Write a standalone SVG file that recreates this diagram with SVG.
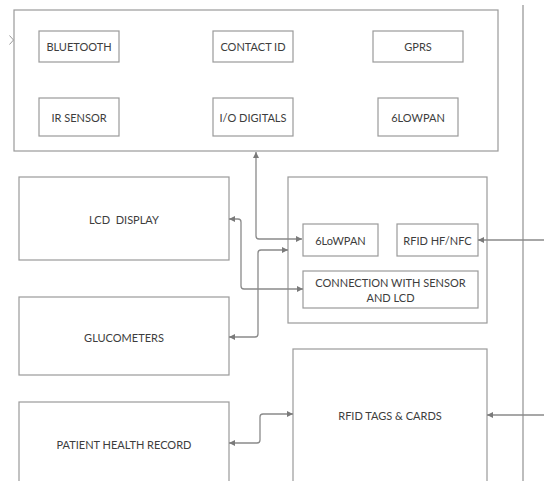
<svg xmlns="http://www.w3.org/2000/svg" width="544" height="481" viewBox="0 0 544 481">
<style>
.box{fill:#fff;stroke:#9a9a9a;stroke-width:1.2}
.lbl{font-family:Lato,"Open Sans","Liberation Sans",sans-serif;font-size:11px;fill:#3d3d3d;text-anchor:middle;dominant-baseline:central}
.con{fill:none;stroke:#8a8a8a;stroke-width:1.3}
</style>
<defs>
<marker id="ah" markerUnits="userSpaceOnUse" markerWidth="7" markerHeight="7" refX="6" refY="3" orient="auto-start-reverse" viewBox="0 0 7 7">
<path d="M0,0 L6,3 L0,6 z" fill="#7a7a7a"/>
</marker>
</defs>
<rect width="544" height="481" fill="#fff"/>
<line x1="523" y1="5" x2="523" y2="481" stroke="#9a9a9a" stroke-width="1.3"/>
<path d="M9.5,35.5 L13.5,40 L9.5,44.5" fill="none" stroke="#9a9a9a" stroke-width="1"/>

<g id="top-group">
<rect class="box" x="14" y="10" width="484" height="141"/>
</g>
<g id="bluetooth"><rect class="box" x="39" y="31" width="80" height="31"/><text class="lbl" x="79" y="46.5">BLUETOOTH</text></g>
<g id="contact-id"><rect class="box" x="213" y="31" width="80" height="31"/><text class="lbl" x="253" y="46.5">CONTACT ID</text></g>
<g id="gprs"><rect class="box" x="373" y="31" width="90" height="31"/><text class="lbl" x="418" y="46.5">GPRS</text></g>
<g id="ir-sensor"><rect class="box" x="39" y="98" width="80" height="38"/><text class="lbl" x="79" y="117">IR SENSOR</text></g>
<g id="io-digitals"><rect class="box" x="213" y="98" width="80" height="38"/><text class="lbl" x="253" y="117">I/O DIGITALS</text></g>
<g id="sixlowpan-top"><rect class="box" x="378" y="98" width="80" height="38"/><text class="lbl" x="418" y="117">6LOWPAN</text></g>

<g id="lcd-display"><rect class="box" x="19" y="177" width="210" height="83"/><text class="lbl" x="124" y="219" xml:space="preserve">LCD  DISPLAY</text></g>
<g id="glucometers"><rect class="box" x="19" y="297" width="210" height="78"/><text class="lbl" x="124" y="337">GLUCOMETERS</text></g>
<g id="patient-health-record"><rect class="box" x="19" y="402" width="210" height="85"/><text class="lbl" x="124" y="444">PATIENT HEALTH RECORD</text></g>

<g id="module-group"><rect class="box" x="288" y="177" width="199" height="146"/></g>
<g id="sixlowpan"><rect class="box" x="303" y="224" width="75" height="32"/><text class="lbl" x="340.5" y="240">6LoWPAN</text></g>
<g id="rfid-hf-nfc"><rect class="box" x="397" y="224" width="81" height="32"/><text class="lbl" x="437.5" y="240">RFID HF/NFC</text></g>
<g id="connection"><rect class="box" x="303" y="271" width="175" height="37"/><text class="lbl" x="390.5" y="282">CONNECTION WITH SENSOR</text><text class="lbl" x="390.5" y="297">AND LCD</text></g>
<g id="rfid-tags"><rect class="box" x="293" y="349" width="194" height="140"/><text class="lbl" x="390" y="415.5">RFID TAGS &amp; CARDS</text></g>

<g id="connectors">
<path class="con" d="M256,152 L256,236 Q256,239 259,239 L302,239" marker-start="url(#ah)" marker-end="url(#ah)"/>
<path class="con" d="M229,219 L238,219 Q241,219 241,222 L241,286 Q241,289 244,289 L303,289" marker-start="url(#ah)" marker-end="url(#ah)"/>
<path class="con" d="M229,337 L255,337 Q258,337 258,334 L258,253 Q258,250 261,250 L288,250" marker-start="url(#ah)" marker-end="url(#ah)"/>
<path class="con" d="M229,443 L257,443 Q260,443 260,440 L260,417 Q260,414 263,414 L293,414" marker-start="url(#ah)" marker-end="url(#ah)"/>
<path class="con" d="M544,240 L478,240" marker-end="url(#ah)"/>
<path class="con" d="M544,415 L487,415" marker-end="url(#ah)"/>
</g>
</svg>
